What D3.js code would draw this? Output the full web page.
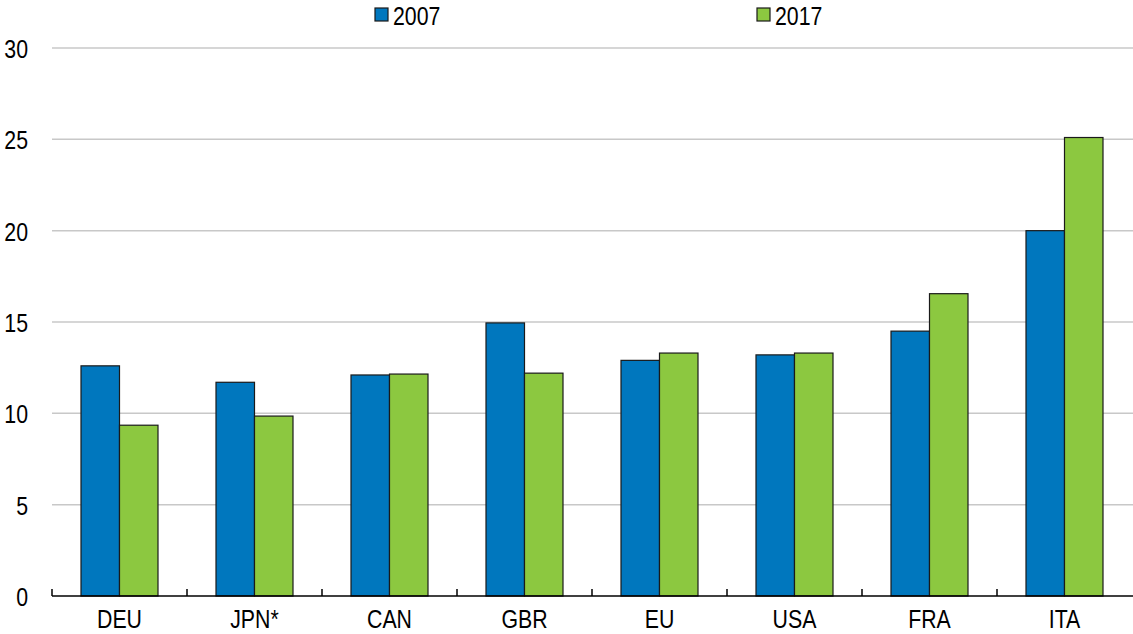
<!DOCTYPE html>
<html>
<head>
<meta charset="utf-8">
<script src="https://cdn.jsdelivr.net/npm/d3@7"></script>
<style>
  body { margin: 0; background: #fff; }
  svg text { font-family: "Liberation Sans", Arial, sans-serif; fill: #000; }
</style>
</head>
<body>
<svg id="chart" width="1133" height="634"></svg>
<script>
const categories = ["DEU", "JPN*", "CAN", "GBR", "EU", "USA", "FRA", "ITA"];
const seriesNames = ["2007", "2017"];
const values2007 = [12.6, 11.7, 12.1, 14.95, 12.9, 13.2, 14.5, 20.0];
const values2017 = [9.35, 9.85, 12.15, 12.2, 13.3, 13.3, 16.55, 25.1];
const yTicks = [0, 5, 10, 15, 20, 25, 30];
const colors = ["#0077BE", "#8CC840"];

const svg = d3.select("#chart");
const margin = { left: 52, right: 1, top: 48, bottom: 38 };
const width = 1133, height = 634;
const fontSize = 26, squeeze = 0.82; // narrow-looking font

const x = d3.scaleBand()
  .domain(categories)
  .range([margin.left, width - margin.right])
  .paddingInner(0).paddingOuter(0);

const y = d3.scaleLinear()
  .domain([0, 30])
  .range([height - margin.bottom, margin.top]);

const inner = d3.scaleBand()
  .domain(seriesNames)
  .range([29, x.bandwidth() - 29]);

// --- GRIDLINES ---
svg.append("g")
  .selectAll("line")
  .data(yTicks.filter(d => d > 0))
  .enter()
  .append("line")
  .attr("x1", margin.left)
  .attr("x2", width)
  .attr("y1", d => y(d))
  .attr("y2", d => y(d))
  .attr("stroke", "#c8c8c8")
  .attr("stroke-width", 1.5);

// --- Y LABELS ---
svg.append("g")
  .selectAll("text")
  .data(yTicks)
  .enter()
  .append("text")
  .attr("transform", d => `translate(28,${y(d) + 10}) scale(${squeeze},1)`)
  .attr("text-anchor", "end")
  .attr("font-size", fontSize)
  .text(d => d);

// --- BARS ---
const rows = categories.map((c, i) => ({ cat: c, vals: [values2007[i], values2017[i]] }));
const group = svg.append("g")
  .selectAll("g")
  .data(rows)
  .enter()
  .append("g")
  .attr("transform", d => `translate(${x(d.cat)},0)`);

group.selectAll("rect")
  .data(d => d.vals.map((v, j) => ({ key: seriesNames[j], v, j })))
  .enter()
  .append("rect")
  .attr("x", d => inner(d.key))
  .attr("width", inner.bandwidth())
  .attr("y", d => y(d.v))
  .attr("height", d => y(0) - y(d.v))
  .attr("fill", d => colors[d.j])
  .attr("stroke", "#1a1a1a")
  .attr("stroke-width", 1.2);

// --- X AXIS ---
const base = y(0);
svg.append("line")
  .attr("x1", margin.left).attr("x2", width)
  .attr("y1", base).attr("y2", base)
  .attr("stroke", "#000").attr("stroke-width", 1.5);

svg.append("g")
  .selectAll("line")
  .data(categories)
  .enter()
  .append("line")
  .attr("x1", d => x(d)).attr("x2", d => x(d))
  .attr("y1", base).attr("y2", base - 7)
  .attr("stroke", "#000").attr("stroke-width", 1.5);

svg.append("g")
  .selectAll("text")
  .data(categories)
  .enter()
  .append("text")
  .attr("transform", d => `translate(${x(d) + x.bandwidth() / 2},${base + 32}) scale(${squeeze},1)`)
  .attr("text-anchor", "middle")
  .attr("font-size", fontSize)
  .text(d => d);

// --- LEGEND ---
const legendX = [375, 757];
const legend = svg.append("g")
  .selectAll("g")
  .data(seriesNames)
  .enter()
  .append("g")
  .attr("transform", (d, i) => `translate(${legendX[i]},8)`);

legend.append("rect")
  .attr("width", 13).attr("height", 13)
  .attr("fill", (d, i) => colors[i])
  .attr("stroke", "#1a1a1a").attr("stroke-width", 1.2);

legend.append("text")
  .attr("transform", `translate(18,17) scale(${squeeze},1)`)
  .attr("font-size", fontSize)
  .text(d => d);
</script>
</body>
</html>
